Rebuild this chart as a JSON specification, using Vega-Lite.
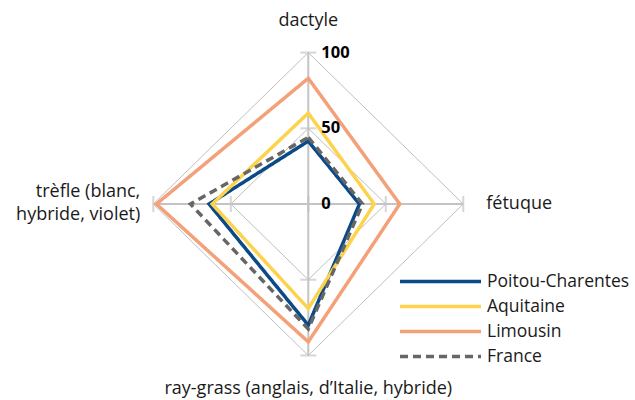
{
  "$schema": "https://vega.github.io/schema/vega-lite/v6.json",
  "width": 635,
  "height": 400,
  "autosize": "none",
  "padding": 0,
  "background": "white",
  "config": {
    "view": {"stroke": null},
    "font": "Open Sans",
    "text": {"font": "Open Sans", "fontSize": 18, "fill": "#1a1a1a"}
  },
  "datasets": {
    "scores": [
      {"region": "Poitou-Charentes", "axe": "dactyle", "ordre": 0, "valeur": 41.5},
      {"region": "Poitou-Charentes", "axe": "fétuque", "ordre": 1, "valeur": 33},
      {"region": "Poitou-Charentes", "axe": "ray-grass", "ordre": 2, "valeur": 80},
      {"region": "Poitou-Charentes", "axe": "trèfle", "ordre": 3, "valeur": 64},
      {"region": "Aquitaine", "axe": "dactyle", "ordre": 0, "valeur": 60},
      {"region": "Aquitaine", "axe": "fétuque", "ordre": 1, "valeur": 42.5},
      {"region": "Aquitaine", "axe": "ray-grass", "ordre": 2, "valeur": 69},
      {"region": "Aquitaine", "axe": "trèfle", "ordre": 3, "valeur": 62},
      {"region": "Limousin", "axe": "dactyle", "ordre": 0, "valeur": 83},
      {"region": "Limousin", "axe": "fétuque", "ordre": 1, "valeur": 59},
      {"region": "Limousin", "axe": "ray-grass", "ordre": 2, "valeur": 91},
      {"region": "Limousin", "axe": "trèfle", "ordre": 3, "valeur": 98},
      {"region": "France", "axe": "dactyle", "ordre": 0, "valeur": 44},
      {"region": "France", "axe": "fétuque", "ordre": 1, "valeur": 35},
      {"region": "France", "axe": "ray-grass", "ordre": 2, "valeur": 82.5},
      {"region": "France", "axe": "trèfle", "ordre": 3, "valeur": 76}
    ],
    "grille": [
      {"niveau": 50, "ordre": 0}, {"niveau": 50, "ordre": 1}, {"niveau": 50, "ordre": 2}, {"niveau": 50, "ordre": 3},
      {"niveau": 100, "ordre": 0}, {"niveau": 100, "ordre": 1}, {"niveau": 100, "ordre": 2}, {"niveau": 100, "ordre": 3}
    ],
    "graduations": [
      {"niveau": 0, "ordre": 0}, {"niveau": 50, "ordre": 0}, {"niveau": 100, "ordre": 0},
      {"niveau": 0, "ordre": 1}, {"niveau": 50, "ordre": 1}, {"niveau": 100, "ordre": 1},
      {"niveau": 50, "ordre": 2}, {"niveau": 100, "ordre": 2},
      {"niveau": 50, "ordre": 3}, {"niveau": 100, "ordre": 3}
    ],
    "axes": [
      {"ordre": 0, "label": "dactyle"},
      {"ordre": 1, "label": "fétuque"},
      {"ordre": 2, "label": "ray-grass (anglais, d’Italie, hybride)"},
      {"ordre": 3, "label": ["trèfle (blanc,", "hybride, violet)"]}
    ]
  },
  "layer": [
    {
      "data": {"name": "grille"},
      "transform": [
        {"calculate": "datum.niveau * sin(datum.ordre * PI / 2)", "as": "px"},
        {"calculate": "datum.niveau * cos(datum.ordre * PI / 2)", "as": "py"}
      ],
      "mark": {"type": "line", "interpolate": "linear-closed", "stroke": "#bfbfbf", "strokeWidth": 1},
      "encoding": {
        "x": {"field": "px", "type": "quantitative", "scale": {"domain": [-198.9, 210.8], "nice": false, "zero": false}, "axis": null},
        "y": {"field": "py", "type": "quantitative", "scale": {"domain": [-129.4, 134.7], "nice": false, "zero": false}, "axis": null},
        "detail": {"field": "niveau", "type": "nominal"},
        "order": {"field": "ordre", "type": "quantitative"}
      }
    },
    {
      "data": {"name": "axes"},
      "transform": [
        {"calculate": "100 * sin(datum.ordre * PI / 2)", "as": "px"},
        {"calculate": "100 * cos(datum.ordre * PI / 2)", "as": "py"},
        {"calculate": "0", "as": "cx"}
      ],
      "mark": {"type": "rule", "stroke": "#c4c4c4", "strokeWidth": 2},
      "encoding": {
        "x": {"field": "cx", "type": "quantitative"},
        "y": {"field": "cx", "type": "quantitative"},
        "x2": {"field": "px"},
        "y2": {"field": "py"}
      }
    },
    {
      "data": {"name": "graduations"},
      "transform": [
        {"filter": "datum.ordre == 0 || datum.ordre == 2"},
        {"calculate": "datum.niveau * sin(datum.ordre * PI / 2)", "as": "px"},
        {"calculate": "datum.niveau * cos(datum.ordre * PI / 2)", "as": "py"}
      ],
      "mark": {"type": "tick", "orient": "horizontal", "color": "#c4c4c4", "size": 16, "thickness": 2},
      "encoding": {
        "x": {"field": "px", "type": "quantitative"},
        "y": {"field": "py", "type": "quantitative"}
      }
    },
    {
      "data": {"name": "graduations"},
      "transform": [
        {"filter": "datum.ordre == 1 || datum.ordre == 3 || datum.niveau == 0"},
        {"calculate": "datum.niveau * sin(datum.ordre * PI / 2)", "as": "px"},
        {"calculate": "datum.niveau * cos(datum.ordre * PI / 2)", "as": "py"}
      ],
      "mark": {"type": "tick", "orient": "vertical", "color": "#c4c4c4", "size": 16, "thickness": 2},
      "encoding": {
        "x": {"field": "px", "type": "quantitative"},
        "y": {"field": "py", "type": "quantitative"}
      }
    },
    {
      "data": {"name": "scores"},
      "transform": [
        {"calculate": "datum.valeur * sin(datum.ordre * PI / 2)", "as": "px"},
        {"calculate": "datum.valeur * cos(datum.ordre * PI / 2)", "as": "py"}
      ],
      "mark": {"type": "line", "interpolate": "linear-closed", "strokeWidth": 3.5},
      "encoding": {
        "x": {"field": "px", "type": "quantitative"},
        "y": {"field": "py", "type": "quantitative"},
        "order": {"field": "ordre", "type": "quantitative"},
        "color": {
          "field": "region", "type": "nominal", "title": null,
          "scale": {
            "domain": ["Poitou-Charentes", "Aquitaine", "Limousin", "France"],
            "range": ["#0a4a87", "#fdd34e", "#f4a079", "#666666"]
          },
          "legend": {
            "orient": "none", "legendX": 398, "legendY": 269,
            "symbolType": "stroke", "symbolSize": 6561, "symbolStrokeWidth": 3.5,
            "clipHeight": 25, "rowPadding": 0,
            "labelFont": "Open Sans", "labelFontSize": 17.5, "labelColor": "#1a1a1a", "labelOffset": 4,
            "labelLimit": 300
          }
        },
        "strokeDash": {
          "field": "region", "type": "nominal", "title": null,
          "scale": {
            "domain": ["Poitou-Charentes", "Aquitaine", "Limousin", "France"],
            "range": [[1, 0], [1, 0], [1, 0], [8, 5]]
          }
        }
      }
    },
    {
      "data": {"name": "graduations"},
      "transform": [{"filter": "datum.ordre == 0"}, {"calculate": "0", "as": "cx"}],
      "mark": {"type": "text", "align": "left", "baseline": "middle", "dx": 13, "fontWeight": "bold", "fontSize": 16.5, "fill": "#000000"},
      "encoding": {
        "x": {"field": "cx", "type": "quantitative"},
        "y": {"field": "niveau", "type": "quantitative"},
        "text": {"field": "niveau", "type": "quantitative"}
      }
    },
    {
      "data": {"name": "axes"},
      "transform": [
        {"filter": "datum.ordre == 0 || datum.ordre == 2"},
        {"calculate": "0", "as": "px"},
        {"calculate": "datum.ordre == 0 ? 121 : -122", "as": "py"}
      ],
      "mark": {"type": "text", "align": "center", "baseline": "middle"},
      "encoding": {
        "x": {"field": "px", "type": "quantitative"},
        "y": {"field": "py", "type": "quantitative"},
        "text": {"field": "label"}
      }
    },
    {
      "data": {"name": "axes"},
      "transform": [
        {"filter": "datum.ordre == 1"},
        {"calculate": "100", "as": "px"},
        {"calculate": "0", "as": "py"}
      ],
      "mark": {"type": "text", "align": "left", "baseline": "middle", "dx": 23},
      "encoding": {
        "x": {"field": "px", "type": "quantitative"},
        "y": {"field": "py", "type": "quantitative"},
        "text": {"field": "label"}
      }
    },
    {
      "data": {"name": "axes"},
      "transform": [
        {"filter": "datum.ordre == 3"},
        {"calculate": "-100", "as": "px"},
        {"calculate": "0", "as": "py"}
      ],
      "mark": {"type": "text", "align": "right", "baseline": "middle", "dx": -13, "dy": -12, "lineHeight": 23},
      "encoding": {
        "x": {"field": "px", "type": "quantitative"},
        "y": {"field": "py", "type": "quantitative"},
        "text": {"field": "label"}
      }
    }
  ]
}
